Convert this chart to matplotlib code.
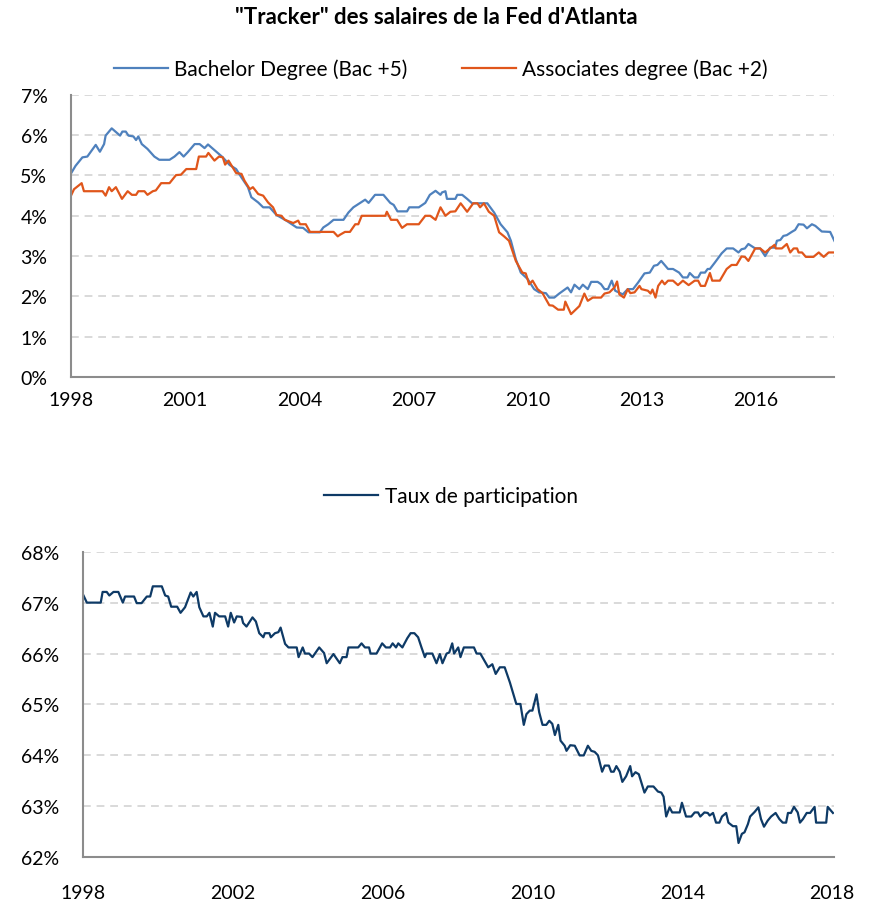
import matplotlib
matplotlib.use("Agg")
import matplotlib.pyplot as plt
from matplotlib.ticker import FuncFormatter

plt.rcParams['font.family'] = ['Lato', 'DejaVu Sans']

# Atlanta Fed wage tracker, % y/y
bach_years = [1998.00, 1998.12, 1998.30, 1998.43, 1998.65, 1998.76, 1998.87, 1998.91, 1999.07, 1999.29,
              1999.35, 1999.44, 1999.51, 1999.64, 1999.71, 1999.77, 1999.86, 2000.01, 2000.19, 2000.32,
              2000.59, 2000.72, 2000.85, 2000.96, 2001.07, 2001.25, 2001.38, 2001.51, 2001.60, 2001.82,
              2001.99, 2002.17, 2002.34, 2002.48, 2002.65, 2002.74, 2002.92, 2003.05, 2003.22, 2003.40,
              2003.66, 2003.93, 2004.10, 2004.24, 2004.54, 2004.63, 2004.76, 2004.90, 2005.16, 2005.29,
              2005.42, 2005.60, 2005.73, 2005.82, 2005.99, 2006.21, 2006.39, 2006.48, 2006.58, 2006.83,
              2006.89, 2007.14, 2007.31, 2007.43, 2007.58, 2007.71, 2007.75, 2007.84, 2007.88, 2008.10,
              2008.15, 2008.28, 2008.41, 2008.54, 2008.94, 2009.12, 2009.29, 2009.47, 2009.56, 2009.69,
              2009.82, 2010.00, 2010.17, 2010.30, 2010.48, 2010.57, 2010.70, 2010.83, 2011.05, 2011.14,
              2011.23, 2011.36, 2011.45, 2011.58, 2011.67, 2011.84, 2011.93, 2012.02, 2012.11, 2012.21,
              2012.30, 2012.50, 2012.63, 2012.77, 2012.90, 2013.07, 2013.21, 2013.32, 2013.41, 2013.51,
              2013.69, 2013.82, 2013.98, 2014.08, 2014.20, 2014.26, 2014.38, 2014.48, 2014.55, 2014.66,
              2014.73, 2014.79, 2014.92, 2015.10, 2015.23, 2015.40, 2015.54, 2015.62, 2015.71, 2015.80,
              2015.98, 2016.11, 2016.24, 2016.37, 2016.50, 2016.55, 2016.64, 2016.72, 2016.81, 2016.94,
              2017.03, 2017.12, 2017.25, 2017.34, 2017.47, 2017.56, 2017.73, 2017.95, 2018.06]
bach_vals = [5.05, 5.24, 5.45, 5.47, 5.76, 5.59, 5.78, 5.99, 6.17, 5.99,
             6.09, 6.09, 5.99, 5.97, 5.88, 5.97, 5.78, 5.66, 5.47, 5.39,
             5.39, 5.47, 5.58, 5.47, 5.58, 5.78, 5.78, 5.68, 5.77, 5.59,
             5.45, 5.26, 5.16, 4.95, 4.71, 4.46, 4.33, 4.21, 4.21, 4.02,
             3.88, 3.71, 3.70, 3.59, 3.59, 3.71, 3.79, 3.90, 3.90, 4.08,
             4.21, 4.32, 4.40, 4.32, 4.52, 4.52, 4.32, 4.27, 4.11, 4.11,
             4.21, 4.21, 4.32, 4.52, 4.62, 4.52, 4.58, 4.61, 4.42, 4.42,
             4.52, 4.52, 4.42, 4.31, 4.31, 4.08, 3.79, 3.59, 3.38, 2.92,
             2.59, 2.43, 2.18, 2.10, 2.08, 1.97, 1.97, 2.07, 2.22, 2.10,
             2.29, 2.18, 2.29, 2.18, 2.36, 2.36, 2.30, 2.18, 2.18, 2.39,
             2.14, 2.05, 2.18, 2.18, 2.34, 2.57, 2.59, 2.76, 2.78, 2.88,
             2.68, 2.68, 2.59, 2.47, 2.47, 2.58, 2.47, 2.47, 2.59, 2.59,
             2.68, 2.68, 2.84, 3.07, 3.19, 3.19, 3.09, 3.17, 3.19, 3.30,
             3.19, 3.19, 3.00, 3.21, 3.21, 3.38, 3.40, 3.50, 3.52, 3.60,
             3.65, 3.79, 3.78, 3.69, 3.79, 3.75, 3.61, 3.60, 3.38]

assoc_years = [1998.00, 1998.08, 1998.28, 1998.34, 1998.83, 1998.91, 1999.00, 1999.07, 1999.18, 1999.34,
               1999.49, 1999.60, 1999.71, 1999.77, 1999.93, 2000.01, 2000.15, 2000.23, 2000.37, 2000.59,
               2000.76, 2000.89, 2001.03, 2001.29, 2001.36, 2001.55, 2001.61, 2001.77, 2001.89, 2001.99,
               2002.05, 2002.14, 2002.21, 2002.34, 2002.48, 2002.56, 2002.70, 2002.78, 2002.92, 2003.05,
               2003.18, 2003.31, 2003.40, 2003.53, 2003.62, 2003.84, 2003.97, 2004.02, 2004.17, 2004.28,
               2004.90, 2005.01, 2005.07, 2005.20, 2005.33, 2005.47, 2005.55, 2005.64, 2006.26, 2006.30,
               2006.41, 2006.57, 2006.70, 2006.83, 2007.14, 2007.31, 2007.44, 2007.58, 2007.71, 2007.84,
               2007.97, 2008.10, 2008.24, 2008.41, 2008.57, 2008.68, 2008.75, 2008.85, 2008.98, 2009.12,
               2009.25, 2009.38, 2009.51, 2009.69, 2009.86, 2009.95, 2010.04, 2010.13, 2010.26, 2010.39,
               2010.57, 2010.66, 2010.80, 2010.95, 2010.99, 2011.14, 2011.36, 2011.49, 2011.58, 2011.71,
               2011.93, 2012.02, 2012.15, 2012.28, 2012.35, 2012.41, 2012.53, 2012.63, 2012.70, 2012.81,
               2012.94, 2012.99, 2013.16, 2013.23, 2013.28, 2013.36, 2013.43, 2013.53, 2013.60, 2013.69,
               2013.82, 2013.95, 2014.08, 2014.23, 2014.39, 2014.48, 2014.55, 2014.66, 2014.79, 2014.85,
               2015.05, 2015.23, 2015.36, 2015.49, 2015.62, 2015.71, 2015.80, 2015.98, 2016.11, 2016.24,
               2016.37, 2016.49, 2016.52, 2016.68, 2016.81, 2016.90, 2016.99, 2017.08, 2017.12, 2017.21,
               2017.31, 2017.51, 2017.65, 2017.78, 2017.91, 2018.06]
assoc_vals = [4.50, 4.66, 4.81, 4.61, 4.61, 4.50, 4.71, 4.61, 4.71, 4.42,
              4.61, 4.52, 4.52, 4.61, 4.61, 4.52, 4.61, 4.63, 4.81, 4.81,
              5.01, 5.02, 5.16, 5.16, 5.47, 5.47, 5.56, 5.37, 5.47, 5.45,
              5.27, 5.37, 5.26, 5.06, 5.04, 4.87, 4.66, 4.71, 4.54, 4.50,
              4.33, 4.21, 4.02, 4.00, 3.90, 3.82, 3.88, 3.79, 3.79, 3.60,
              3.60, 3.49, 3.53, 3.60, 3.60, 3.79, 3.79, 4.00, 4.00, 4.10,
              3.90, 3.90, 3.70, 3.79, 3.79, 4.00, 4.00, 3.90, 4.21, 4.00,
              4.10, 4.11, 4.31, 4.10, 4.31, 4.31, 4.21, 4.31, 4.10, 4.00,
              3.59, 3.49, 3.38, 2.88, 2.59, 2.57, 2.30, 2.39, 2.18, 2.08,
              1.78, 1.77, 1.67, 1.67, 1.87, 1.56, 1.76, 2.07, 1.89, 1.97,
              1.97, 2.07, 2.10, 2.22, 2.37, 2.05, 1.97, 2.18, 2.08, 2.10,
              2.26, 2.18, 2.14, 2.07, 2.17, 1.97, 2.26, 2.39, 2.30, 2.39,
              2.39, 2.28, 2.39, 2.28, 2.39, 2.39, 2.26, 2.26, 2.58, 2.39,
              2.39, 2.68, 2.78, 2.78, 2.99, 2.98, 2.88, 3.19, 3.19, 3.09,
              3.19, 3.28, 3.19, 3.19, 3.30, 3.09, 3.19, 3.19, 3.09, 3.09,
              2.98, 2.98, 3.09, 2.98, 3.09, 3.09]

# participation rate, %
part_years = [1998.02, 1998.11, 1998.48, 1998.53, 1998.64, 1998.71, 1998.82, 1998.95, 1999.07, 1999.13,
              1999.37, 1999.44, 1999.57, 1999.71, 1999.80, 1999.87, 2000.11, 2000.20, 2000.28, 2000.36,
              2000.52, 2000.61, 2000.73, 2000.88, 2000.95, 2001.04, 2001.11, 2001.22, 2001.31, 2001.38,
              2001.47, 2001.53, 2001.64, 2001.80, 2001.88, 2001.95, 2002.04, 2002.11, 2002.24, 2002.28,
              2002.37, 2002.53, 2002.62, 2002.71, 2002.82, 2002.86, 2002.98, 2003.02, 2003.13, 2003.22,
              2003.28, 2003.40, 2003.49, 2003.71, 2003.76, 2003.87, 2003.93, 2004.04, 2004.13, 2004.31,
              2004.44, 2004.51, 2004.69, 2004.86, 2004.93, 2005.04, 2005.09, 2005.35, 2005.44, 2005.53,
              2005.64, 2005.68, 2005.84, 2005.99, 2006.09, 2006.20, 2006.27, 2006.36, 2006.42, 2006.53,
              2006.66, 2006.75, 2006.85, 2006.95, 2007.04, 2007.13, 2007.17, 2007.33, 2007.44, 2007.53,
              2007.60, 2007.71, 2007.78, 2007.86, 2007.91, 2008.02, 2008.08, 2008.17, 2008.44, 2008.51,
              2008.61, 2008.82, 2008.93, 2009.02, 2009.13, 2009.26, 2009.40, 2009.57, 2009.68, 2009.77,
              2009.84, 2009.93, 2010.00, 2010.11, 2010.18, 2010.27, 2010.37, 2010.45, 2010.53, 2010.60,
              2010.69, 2010.75, 2010.86, 2010.91, 2011.01, 2011.13, 2011.26, 2011.37, 2011.48, 2011.57,
              2011.66, 2011.75, 2011.86, 2011.93, 2012.04, 2012.10, 2012.17, 2012.24, 2012.33, 2012.40,
              2012.50, 2012.61, 2012.66, 2012.75, 2012.84, 2012.99, 2013.08, 2013.23, 2013.35, 2013.44,
              2013.50, 2013.57, 2013.66, 2013.73, 2013.93, 2013.99, 2014.10, 2014.24, 2014.33, 2014.42,
              2014.48, 2014.59, 2014.68, 2014.73, 2014.82, 2014.90, 2014.99, 2015.06, 2015.17, 2015.23,
              2015.35, 2015.44, 2015.50, 2015.59, 2015.66, 2015.75, 2015.81, 2015.93, 2016.03, 2016.10,
              2016.18, 2016.28, 2016.37, 2016.49, 2016.59, 2016.68, 2016.77, 2016.82, 2016.90, 2016.98,
              2017.08, 2017.14, 2017.22, 2017.32, 2017.41, 2017.53, 2017.57, 2017.84, 2017.88, 2018.02]
part_vals = [67.14, 67.00, 67.00, 67.21, 67.21, 67.14, 67.21, 67.21, 67.00, 67.12,
             67.12, 66.99, 66.99, 67.12, 67.12, 67.32, 67.32, 67.14, 67.12, 66.92,
             66.92, 66.80, 66.91, 67.20, 67.12, 67.21, 66.91, 66.73, 66.73, 66.80,
             66.53, 66.80, 66.73, 66.73, 66.53, 66.80, 66.61, 66.73, 66.72, 66.60,
             66.53, 66.71, 66.63, 66.40, 66.32, 66.40, 66.40, 66.32, 66.40, 66.42,
             66.51, 66.19, 66.12, 66.12, 65.93, 66.12, 66.00, 66.00, 65.93, 66.12,
             66.01, 65.81, 65.99, 65.81, 65.93, 65.93, 66.12, 66.12, 66.20, 66.12,
             66.12, 66.00, 66.00, 66.20, 66.12, 66.12, 66.20, 66.12, 66.20, 66.12,
             66.30, 66.40, 66.40, 66.32, 66.12, 65.93, 66.00, 66.00, 65.81, 65.99,
             65.81, 66.00, 66.02, 66.20, 66.00, 66.12, 65.93, 66.12, 66.12, 66.00,
             66.00, 65.73, 65.79, 65.60, 65.73, 65.73, 65.43, 65.01, 65.01, 64.60,
             64.81, 64.88, 64.88, 65.20, 64.85, 64.60, 64.60, 64.68, 64.62, 64.40,
             64.60, 64.29, 64.19, 64.09, 64.20, 64.19, 64.00, 64.00, 64.19, 64.09,
             64.07, 64.00, 63.68, 63.80, 63.80, 63.68, 63.68, 63.79, 63.68, 63.48,
             63.59, 63.79, 63.59, 63.67, 63.63, 63.27, 63.39, 63.39, 63.29, 63.27,
             63.19, 62.80, 62.98, 62.88, 62.88, 63.07, 62.80, 62.80, 62.88, 62.88,
             62.80, 62.88, 62.87, 62.82, 62.87, 62.68, 62.68, 62.80, 62.87, 62.68,
             62.61, 62.61, 62.28, 62.46, 62.49, 62.65, 62.80, 62.89, 62.98, 62.75,
             62.60, 62.72, 62.80, 62.87, 62.75, 62.68, 62.68, 62.87, 62.87, 62.99,
             62.88, 62.68, 62.75, 62.87, 62.87, 62.99, 62.68, 62.68, 62.99, 62.87]

top_ticks = [1998, 2001, 2004, 2007, 2010, 2013, 2016]
bottom_ticks = [1998, 2002, 2006, 2010, 2014, 2018]

BLUE = '#4F81BD'
ORANGE = '#E0561B'
NAVY = '#0E3A66'
GRID = '#D9D9D9'
AXIS = '#8C8C8C'


def style_axis(ax, xpad):
    for s in ['top', 'right']:
        ax.spines[s].set_visible(False)
    for s in ['left', 'bottom']:
        ax.spines[s].set_color(AXIS)
        ax.spines[s].set_linewidth(1.5)
    ax.yaxis.grid(True, color=GRID, linestyle=(0, (4, 3)), linewidth=1.4)
    ax.set_axisbelow(True)
    ax.tick_params(axis='y', length=0, pad=17, labelsize=14)
    ax.tick_params(axis='x', length=0, pad=xpad, labelsize=14)
    ax.yaxis.set_major_formatter(FuncFormatter(lambda v, p: '%d%%' % round(v)))


fig = plt.figure(figsize=(8.71, 9.04), dpi=100)

# top panel: wage tracker
ax1 = fig.add_axes([0.0815, 0.5819, 0.876, 0.312])
ax1.plot(bach_years, bach_vals, color=BLUE, lw=1.6, label='Bachelor Degree (Bac +5)')
ax1.plot(assoc_years, assoc_vals, color=ORANGE, lw=1.6, label='Associates degree (Bac +2)')
ax1.set_xlim(1998, 2018.05)
ax1.set_ylim(0, 7)
ax1.set_yticks(range(0, 8))
ax1.set_xticks(top_ticks)
ax1.set_xticklabels([str(t) for t in top_ticks])
style_axis(ax1, 10)
ax1.legend(loc='center', bbox_to_anchor=(441 / 871, 1 - 70 / 904), bbox_transform=fig.transFigure,
           ncol=2, frameon=False, fontsize=15, handlelength=2.6, columnspacing=2.6, handletextpad=0.3)
fig.text(436 / 871, 1 - 18 / 904, '"Tracker" des salaires de la Fed d\'Atlanta',
         ha='center', va='center', fontsize=16, fontweight='bold')

# bottom panel: participation rate
ax2 = fig.add_axes([0.095, 0.0506, 0.8626, 0.338])
ax2.plot(part_years, part_vals, color=NAVY, lw=1.6, label='Taux de participation')
ax2.set_xlim(1998, 2018.05)
ax2.set_ylim(62, 68)
ax2.set_yticks(range(62, 69))
ax2.set_xticks(bottom_ticks)
ax2.set_xticklabels([str(t) for t in bottom_ticks])
style_axis(ax2, 19)
ax2.legend(loc='center', bbox_to_anchor=(451 / 871, 1 - 497 / 904), bbox_transform=fig.transFigure,
           frameon=False, fontsize=15, handlelength=2.6, handletextpad=0.3)

fig.savefig('out.png', dpi=100)
